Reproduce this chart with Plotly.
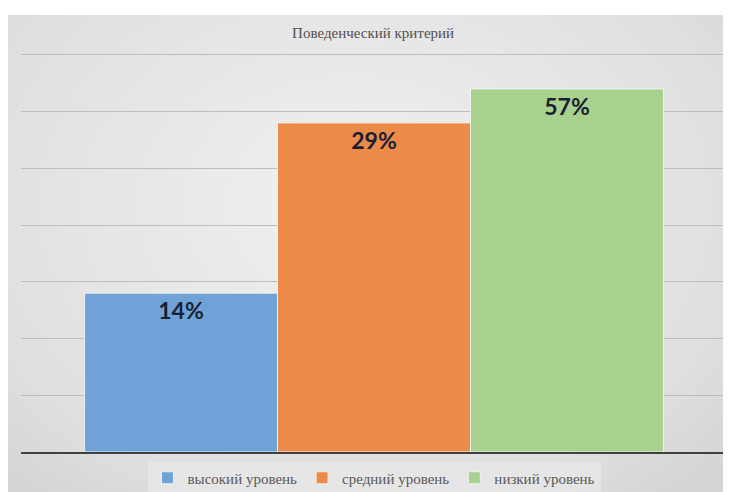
import plotly.graph_objects as go

title_text = "Поведенческий критерий"
series_names = ["высокий уровень", "средний уровень", "низкий уровень"]
series_values = [2.8, 5.8, 6.4]
value_labels = ["14%", "29%", "57%"]
series_colors = ["#6FA3D8", "#EC8A4A", "#A8D18D"]
category = [""]

fig = go.Figure()
for name, val, lab, col in zip(series_names, series_values, value_labels, series_colors):
    fig.add_trace(go.Bar(
        x=category, y=[val], name=name, text=[lab],
        textposition="inside", insidetextanchor="end",
        textfont=dict(family="Lato, Open Sans, sans-serif", size=23, color="#1B1F33",
                      weight="bold"),
        textangle=0,
        marker=dict(color=col, line=dict(color="#F0F0F0", width=1)),
        hoverinfo="skip",
    ))

# figure is drawn with the page's 8px body margin, so size it to the visible area
W, H = 723, 484
L, R, T, B = 13, 4, 44, 40
ph = H - T - B
pw = W - L - R
X0, X1 = -L / pw, (W - L) / pw
Y0, Y1 = -B / ph, (H - B - 7) / ph

shapes = [dict(type="rect", xref="paper", yref="paper", x0=X0, x1=X1,
               y0=Y0, y1=Y1, fillcolor="#D4D4D4", line=dict(width=0), layer="below")]
n = 24
for i in range(n):
    f = i / n
    shapes.append(dict(type="circle", xref="paper", yref="paper",
                       x0=0.47 - 0.72 * (1 - f), x1=0.47 + 0.72 * (1 - f),
                       y0=0.62 - 0.95 * (1 - f), y1=0.62 + 0.95 * (1 - f),
                       fillcolor="rgba(255,255,255,0.06)", line=dict(width=0), layer="below"))
shapes += [
    dict(type="rect", xref="paper", yref="paper", x0=-0.3, x1=X0, y0=-0.4, y1=1.4,
         fillcolor="white", line=dict(width=0), layer="below"),
    dict(type="rect", xref="paper", yref="paper", x0=-0.3, x1=1.3, y0=Y1, y1=1.4,
         fillcolor="white", line=dict(width=0), layer="below"),
    dict(type="rect", xref="paper", yref="paper", x0=-0.3, x1=1.3, y0=-0.4, y1=Y0,
         fillcolor="white", line=dict(width=0), layer="below"),
    dict(type="rect", xref="paper", yref="paper", x0=X1, x1=1.3, y0=-0.4, y1=1.4,
         fillcolor="white", line=dict(width=0), layer="below"),
]

fig.update_layout(
    width=W, height=H,
    margin=dict(l=L, r=R, t=T, b=B, autoexpand=False),
    paper_bgcolor="white", plot_bgcolor="rgba(0,0,0,0)",
    barmode="group", bargap=0.18, bargroupgap=0,
    shapes=shapes,
    title=dict(text=title_text, x=0.505, xanchor="center", y=1 - 25 / H, yanchor="middle",
               font=dict(family="Liberation Serif, serif", size=15, color="#505050")),
    showlegend=True,
    legend=dict(orientation="h", x=0.5, xanchor="center", y=-(470 - (H - B)) / ph,
                yanchor="middle",
                font=dict(family="Liberation Serif, serif", size=15, color="#595959"),
                bgcolor="rgba(232,232,232,0.7)", itemwidth=30, traceorder="normal",
                tracegroupgap=0),
    xaxis=dict(showticklabels=False, showgrid=False, showline=True, linecolor="#404040",
               linewidth=2, ticks=""),
    yaxis=dict(range=[0, 7.05], dtick=1, showticklabels=False, showgrid=True,
               gridcolor="#BDBDBD", gridwidth=1, zeroline=False, ticks=""),
)

fig.write_html("out.html")
